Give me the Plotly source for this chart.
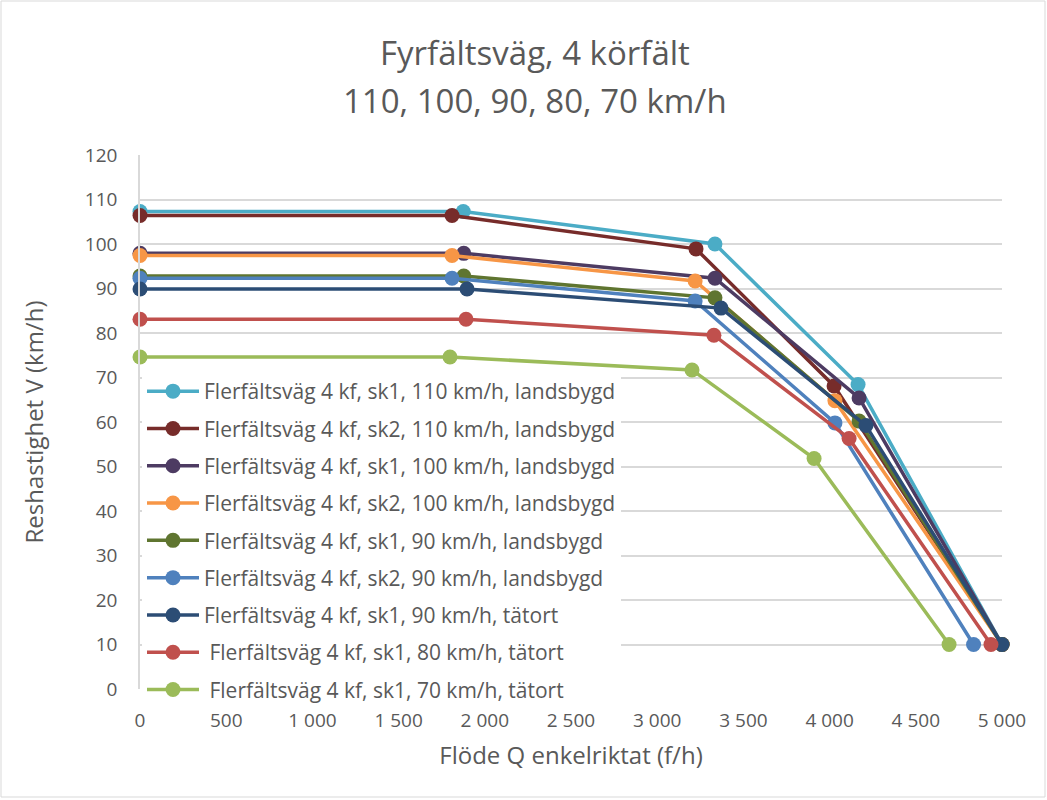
import plotly.graph_objects as go

names = [
    "Flerfältsväg 4 kf, sk1, 110 km/h, landsbygd",
    "Flerfältsväg 4 kf, sk2, 110 km/h, landsbygd",
    "Flerfältsväg 4 kf, sk1, 100 km/h, landsbygd",
    "Flerfältsväg 4 kf, sk2, 100 km/h, landsbygd",
    "Flerfältsväg 4 kf, sk1, 90 km/h, landsbygd",
    "Flerfältsväg 4 kf, sk2, 90 km/h, landsbygd",
    "Flerfältsväg 4 kf, sk1, 90 km/h, tätort",
    " Flerfältsväg 4 kf, sk1, 80 km/h, tätort",
    " Flerfältsväg 4 kf, sk1, 70 km/h, tätort",
]
colors = ["#4BACC6", "#772C2A", "#4D3B62", "#F79646", "#5F7530",
          "#4F81BD", "#2C4D75", "#C0504D", "#9BBB59"]

q1 = [0, 1875, 3335, 4165, 5000];  v1 = [107.3, 107.3, 100.0, 68.4, 10]
q2 = [0, 1810, 3225, 4026, 5000];  v2 = [106.4, 106.4, 98.9, 68.1, 10]
q3 = [0, 1878, 3335, 4171, 5000];  v3 = [97.9, 97.9, 92.3, 65.4, 10]
q4 = [0, 1810, 3220, 4031, 5000];  v4 = [97.4, 97.4, 91.7, 64.8, 10]
q5 = [0, 1878, 3335, 4171, 5000];  v5 = [92.8, 92.8, 87.9, 60.2, 10]
q6 = [0, 1810, 3220, 4031, 4835]; v6 = [92.3, 92.3, 87.2, 59.8, 10]
q7 = [0, 1897, 3370, 4211, 5000];  v7 = [89.9, 89.9, 85.6, 59.2, 10]
q8 = [0, 1891, 3329, 4113, 4936];  v8 = [83.1, 83.1, 79.5, 56.3, 10]
q9 = [0, 1798, 3202, 3910, 4693];  v9 = [74.6, 74.6, 71.7, 51.8, 10]

qs = [q1, q2, q3, q4, q5, q6, q7, q8, q9]
vs = [v1, v2, v3, v4, v5, v6, v7, v8, v9]

x_ticks = [0, 500, 1000, 1500, 2000, 2500, 3000, 3500, 4000, 4500, 5000]
x_labels = ["0", "500", "1 000", "1 500", "2 000", "2 500", "3 000", "3 500",
            "4 000", "4 500", "5 000"]
y_ticks = list(range(0, 121, 10))

FONT = "Open Sans"
GREY = "#595959"

fig = go.Figure()
for i, (n, c, q, v) in enumerate(zip(names, colors, qs, vs)):
    fig.add_trace(go.Scatter(
        x=q, y=v, name=n, mode="lines+markers",
        line=dict(color=c, width=3.5),
        marker=dict(color=c, size=15),
        legendgroup=f"g{i}", cliponaxis=False,
    ))

W, H = 1047, 800
L, R, T, B = 140, 45, 155, 111
pw, ph = W - L - R, H - T - B

def px_x(p):
    return (p - L) / pw

def px_y(p):
    return (H - B - p) / ph

fig.update_layout(
    width=W, height=H,
    margin=dict(l=L, r=R, t=T, b=B),
    paper_bgcolor="white", plot_bgcolor="white",
    font=dict(family=FONT, color=GREY, size=19),
    showlegend=True,
    legend=dict(
        x=px_x(142), y=px_y(371), xanchor="left", yanchor="top",
        bgcolor="white", font=dict(size=21, color=GREY, family=FONT),
        traceorder="grouped", tracegroupgap=7,
        itemwidth=52,
    ),
    xaxis=dict(
        range=[0, 5000], tickvals=x_ticks, ticktext=x_labels,
        showgrid=False, showline=False, zeroline=False,
        ticks="", tickfont=dict(size=19, color=GREY), ticklabelstandoff=18,
        title=dict(text="Flöde Q enkelriktat (f/h)", font=dict(size=24, color=GREY),
                   standoff=15),
    ),
    yaxis=dict(
        range=[0, 120], tickvals=y_ticks,
        showgrid=True, gridcolor="#d9d9d9", gridwidth=1.5,
        zeroline=False, showline=True, linecolor="#d9d9d9", linewidth=1.5,
        ticks="", tickfont=dict(size=19, color=GREY), ticklabelstandoff=17,
        title=dict(text="Reshastighet V (km/h)", font=dict(size=24, color=GREY),
                   standoff=34),
    ),
)

fig.add_annotation(text="Fyrfältsväg, 4 körfält", xref="paper", yref="paper",
                   x=px_x(535), y=px_y(52), xanchor="center", yanchor="middle",
                   showarrow=False, font=dict(size=33, color=GREY, family=FONT))
fig.add_annotation(text="110, 100, 90, 80, 70 km/h", xref="paper", yref="paper",
                   x=px_x(535), y=px_y(100), xanchor="center", yanchor="middle",
                   showarrow=False, font=dict(size=33, color=GREY, family=FONT))

fig.add_shape(type="rect", xref="paper", yref="paper",
              x0=px_x(1), x1=px_x(1045), y0=px_y(797), y1=px_y(1),
              line=dict(color="#d9d9d9", width=1), layer="below")

fig.write_html("out.html")
